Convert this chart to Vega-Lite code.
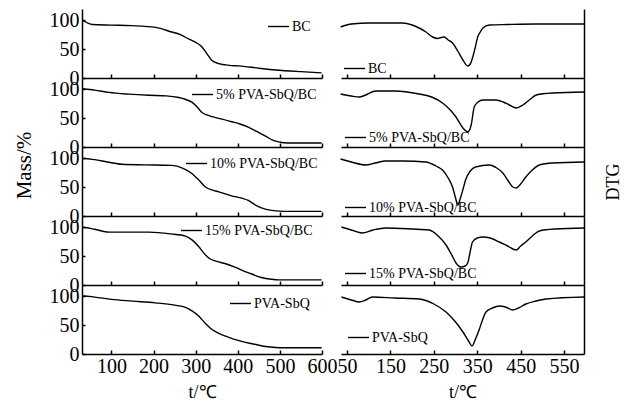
{
  "$schema": "https://vega.github.io/schema/vega-lite/v6.json",
  "padding": {"left": 13, "top": 9, "right": 0, "bottom": 0},
  "config": {
    "font": "Liberation Serif",
    "view": {"stroke": null},
    "axis": {
      "labelFont": "Liberation Serif", "labelFontSize": 20, "labelColor": "black",
      "titleFont": "Liberation Serif", "titleFontWeight": "normal", "titleFontSize": 19, "titleColor": "black",
      "domainColor": "black", "tickColor": "black", "grid": false, "domainWidth": 1.5, "tickWidth": 1.5, "labelFlush": false
    },
    "line": {"color": "black", "strokeWidth": 1.4},
    "legend": {
      "orient": "none", "title": null, "symbolType": "stroke", "symbolSize": 441, "symbolStrokeWidth": 1.5,
      "symbolStrokeColor": "black", "labelFont": "Liberation Serif", "labelFontSize": 14, "labelColor": "black",
      "labelOffset": 2, "padding": 0
    }
  },
  "datasets": {
    "tga": [
      {"sample": "BC", "T": 30, "mass": 100}, {"sample": "BC", "T": 35, "mass": 99}, {"sample": "BC", "T": 45, "mass": 95}, {"sample": "BC", "T": 54, "mass": 93}, {"sample": "BC", "T": 100, "mass": 92}, {"sample": "BC", "T": 148, "mass": 91}, {"sample": "BC", "T": 205, "mass": 88}, {"sample": "BC", "T": 243, "mass": 80}, {"sample": "BC", "T": 265, "mass": 75}, {"sample": "BC", "T": 283, "mass": 68}, {"sample": "BC", "T": 300, "mass": 62}, {"sample": "BC", "T": 315, "mass": 54}, {"sample": "BC", "T": 327, "mass": 42}, {"sample": "BC", "T": 338, "mass": 31}, {"sample": "BC", "T": 355, "mass": 25}, {"sample": "BC", "T": 380, "mass": 22}, {"sample": "BC", "T": 402, "mass": 21}, {"sample": "BC", "T": 450, "mass": 17}, {"sample": "BC", "T": 490, "mass": 14}, {"sample": "BC", "T": 550, "mass": 11}, {"sample": "BC", "T": 599, "mass": 9},
      {"sample": "5% PVA-SbQ/BC", "T": 30, "mass": 101}, {"sample": "5% PVA-SbQ/BC", "T": 35, "mass": 101}, {"sample": "5% PVA-SbQ/BC", "T": 60, "mass": 99}, {"sample": "5% PVA-SbQ/BC", "T": 94, "mass": 95}, {"sample": "5% PVA-SbQ/BC", "T": 140, "mass": 92}, {"sample": "5% PVA-SbQ/BC", "T": 189, "mass": 90}, {"sample": "5% PVA-SbQ/BC", "T": 230, "mass": 89}, {"sample": "5% PVA-SbQ/BC", "T": 260, "mass": 86}, {"sample": "5% PVA-SbQ/BC", "T": 275, "mass": 83}, {"sample": "5% PVA-SbQ/BC", "T": 291, "mass": 78}, {"sample": "5% PVA-SbQ/BC", "T": 303, "mass": 70}, {"sample": "5% PVA-SbQ/BC", "T": 315, "mass": 60}, {"sample": "5% PVA-SbQ/BC", "T": 330, "mass": 55}, {"sample": "5% PVA-SbQ/BC", "T": 348, "mass": 51}, {"sample": "5% PVA-SbQ/BC", "T": 365, "mass": 48}, {"sample": "5% PVA-SbQ/BC", "T": 385, "mass": 44}, {"sample": "5% PVA-SbQ/BC", "T": 405, "mass": 40}, {"sample": "5% PVA-SbQ/BC", "T": 426, "mass": 34}, {"sample": "5% PVA-SbQ/BC", "T": 445, "mass": 27}, {"sample": "5% PVA-SbQ/BC", "T": 466, "mass": 19}, {"sample": "5% PVA-SbQ/BC", "T": 480, "mass": 13}, {"sample": "5% PVA-SbQ/BC", "T": 497, "mass": 9}, {"sample": "5% PVA-SbQ/BC", "T": 520, "mass": 7}, {"sample": "5% PVA-SbQ/BC", "T": 560, "mass": 7}, {"sample": "5% PVA-SbQ/BC", "T": 599, "mass": 7},
      {"sample": "10% PVA-SbQ/BC", "T": 30, "mass": 100}, {"sample": "10% PVA-SbQ/BC", "T": 35, "mass": 100}, {"sample": "10% PVA-SbQ/BC", "T": 60, "mass": 98}, {"sample": "10% PVA-SbQ/BC", "T": 90, "mass": 94}, {"sample": "10% PVA-SbQ/BC", "T": 125, "mass": 90}, {"sample": "10% PVA-SbQ/BC", "T": 180, "mass": 89}, {"sample": "10% PVA-SbQ/BC", "T": 243, "mass": 88}, {"sample": "10% PVA-SbQ/BC", "T": 270, "mass": 83}, {"sample": "10% PVA-SbQ/BC", "T": 291, "mass": 74}, {"sample": "10% PVA-SbQ/BC", "T": 308, "mass": 62}, {"sample": "10% PVA-SbQ/BC", "T": 324, "mass": 50}, {"sample": "10% PVA-SbQ/BC", "T": 340, "mass": 45}, {"sample": "10% PVA-SbQ/BC", "T": 355, "mass": 42}, {"sample": "10% PVA-SbQ/BC", "T": 385, "mass": 35}, {"sample": "10% PVA-SbQ/BC", "T": 410, "mass": 31}, {"sample": "10% PVA-SbQ/BC", "T": 425, "mass": 27}, {"sample": "10% PVA-SbQ/BC", "T": 442, "mass": 19}, {"sample": "10% PVA-SbQ/BC", "T": 465, "mass": 12}, {"sample": "10% PVA-SbQ/BC", "T": 490, "mass": 9}, {"sample": "10% PVA-SbQ/BC", "T": 530, "mass": 8}, {"sample": "10% PVA-SbQ/BC", "T": 599, "mass": 8},
      {"sample": "15% PVA-SbQ/BC", "T": 30, "mass": 100}, {"sample": "15% PVA-SbQ/BC", "T": 35, "mass": 100}, {"sample": "15% PVA-SbQ/BC", "T": 60, "mass": 97}, {"sample": "15% PVA-SbQ/BC", "T": 94, "mass": 92}, {"sample": "15% PVA-SbQ/BC", "T": 140, "mass": 92}, {"sample": "15% PVA-SbQ/BC", "T": 189, "mass": 92}, {"sample": "15% PVA-SbQ/BC", "T": 240, "mass": 89}, {"sample": "15% PVA-SbQ/BC", "T": 276, "mass": 85}, {"sample": "15% PVA-SbQ/BC", "T": 292, "mass": 78}, {"sample": "15% PVA-SbQ/BC", "T": 307, "mass": 67}, {"sample": "15% PVA-SbQ/BC", "T": 320, "mass": 55}, {"sample": "15% PVA-SbQ/BC", "T": 331, "mass": 47}, {"sample": "15% PVA-SbQ/BC", "T": 350, "mass": 41}, {"sample": "15% PVA-SbQ/BC", "T": 371, "mass": 37}, {"sample": "15% PVA-SbQ/BC", "T": 390, "mass": 32}, {"sample": "15% PVA-SbQ/BC", "T": 409, "mass": 26}, {"sample": "15% PVA-SbQ/BC", "T": 430, "mass": 20}, {"sample": "15% PVA-SbQ/BC", "T": 456, "mass": 13}, {"sample": "15% PVA-SbQ/BC", "T": 480, "mass": 10}, {"sample": "15% PVA-SbQ/BC", "T": 497, "mass": 9}, {"sample": "15% PVA-SbQ/BC", "T": 599, "mass": 9},
      {"sample": "PVA-SbQ", "T": 30, "mass": 101}, {"sample": "PVA-SbQ", "T": 35, "mass": 101}, {"sample": "PVA-SbQ", "T": 60, "mass": 99}, {"sample": "PVA-SbQ", "T": 100, "mass": 95}, {"sample": "PVA-SbQ", "T": 150, "mass": 92}, {"sample": "PVA-SbQ", "T": 204, "mass": 89}, {"sample": "PVA-SbQ", "T": 250, "mass": 85}, {"sample": "PVA-SbQ", "T": 276, "mass": 81}, {"sample": "PVA-SbQ", "T": 293, "mass": 74}, {"sample": "PVA-SbQ", "T": 307, "mass": 66}, {"sample": "PVA-SbQ", "T": 322, "mass": 54}, {"sample": "PVA-SbQ", "T": 338, "mass": 43}, {"sample": "PVA-SbQ", "T": 355, "mass": 36}, {"sample": "PVA-SbQ", "T": 371, "mass": 31}, {"sample": "PVA-SbQ", "T": 390, "mass": 26}, {"sample": "PVA-SbQ", "T": 409, "mass": 22}, {"sample": "PVA-SbQ", "T": 440, "mass": 17}, {"sample": "PVA-SbQ", "T": 466, "mass": 13}, {"sample": "PVA-SbQ", "T": 499, "mass": 11}, {"sample": "PVA-SbQ", "T": 599, "mass": 11}
    ],
    "dtg": [
      {"sample": "BC", "T": 35, "dtg": 51}, {"sample": "BC", "T": 60, "dtg": 54}, {"sample": "BC", "T": 101, "dtg": 55}, {"sample": "BC", "T": 178, "dtg": 55}, {"sample": "BC", "T": 200, "dtg": 53}, {"sample": "BC", "T": 216, "dtg": 50}, {"sample": "BC", "T": 232, "dtg": 46}, {"sample": "BC", "T": 247, "dtg": 41}, {"sample": "BC", "T": 259, "dtg": 39.5}, {"sample": "BC", "T": 267, "dtg": 40.5}, {"sample": "BC", "T": 274, "dtg": 41}, {"sample": "BC", "T": 283, "dtg": 38}, {"sample": "BC", "T": 293, "dtg": 35}, {"sample": "BC", "T": 305, "dtg": 27}, {"sample": "BC", "T": 317, "dtg": 18}, {"sample": "BC", "T": 328, "dtg": 12}, {"sample": "BC", "T": 334, "dtg": 14}, {"sample": "BC", "T": 339, "dtg": 20}, {"sample": "BC", "T": 345, "dtg": 30}, {"sample": "BC", "T": 351, "dtg": 41}, {"sample": "BC", "T": 357, "dtg": 46}, {"sample": "BC", "T": 363, "dtg": 50}, {"sample": "BC", "T": 378, "dtg": 53}, {"sample": "BC", "T": 420, "dtg": 53.5}, {"sample": "BC", "T": 486, "dtg": 54}, {"sample": "BC", "T": 597, "dtg": 54},
      {"sample": "5% PVA-SbQ/BC", "T": 35, "dtg": 53}, {"sample": "5% PVA-SbQ/BC", "T": 60, "dtg": 51}, {"sample": "5% PVA-SbQ/BC", "T": 78, "dtg": 50}, {"sample": "5% PVA-SbQ/BC", "T": 93, "dtg": 52}, {"sample": "5% PVA-SbQ/BC", "T": 116, "dtg": 56}, {"sample": "5% PVA-SbQ/BC", "T": 160, "dtg": 56}, {"sample": "5% PVA-SbQ/BC", "T": 216, "dtg": 53}, {"sample": "5% PVA-SbQ/BC", "T": 245, "dtg": 50}, {"sample": "5% PVA-SbQ/BC", "T": 270, "dtg": 44}, {"sample": "5% PVA-SbQ/BC", "T": 290, "dtg": 36}, {"sample": "5% PVA-SbQ/BC", "T": 301, "dtg": 30}, {"sample": "5% PVA-SbQ/BC", "T": 317, "dtg": 19}, {"sample": "5% PVA-SbQ/BC", "T": 328, "dtg": 15}, {"sample": "5% PVA-SbQ/BC", "T": 336, "dtg": 22}, {"sample": "5% PVA-SbQ/BC", "T": 343, "dtg": 40}, {"sample": "5% PVA-SbQ/BC", "T": 352, "dtg": 45}, {"sample": "5% PVA-SbQ/BC", "T": 363, "dtg": 47}, {"sample": "5% PVA-SbQ/BC", "T": 393, "dtg": 47}, {"sample": "5% PVA-SbQ/BC", "T": 410, "dtg": 45}, {"sample": "5% PVA-SbQ/BC", "T": 424, "dtg": 42}, {"sample": "5% PVA-SbQ/BC", "T": 440, "dtg": 39}, {"sample": "5% PVA-SbQ/BC", "T": 455, "dtg": 42}, {"sample": "5% PVA-SbQ/BC", "T": 470, "dtg": 47}, {"sample": "5% PVA-SbQ/BC", "T": 486, "dtg": 52}, {"sample": "5% PVA-SbQ/BC", "T": 524, "dtg": 54}, {"sample": "5% PVA-SbQ/BC", "T": 597, "dtg": 55},
      {"sample": "10% PVA-SbQ/BC", "T": 35, "dtg": 57}, {"sample": "10% PVA-SbQ/BC", "T": 60, "dtg": 54}, {"sample": "10% PVA-SbQ/BC", "T": 93, "dtg": 51}, {"sample": "10% PVA-SbQ/BC", "T": 115, "dtg": 53}, {"sample": "10% PVA-SbQ/BC", "T": 139, "dtg": 55}, {"sample": "10% PVA-SbQ/BC", "T": 180, "dtg": 55}, {"sample": "10% PVA-SbQ/BC", "T": 231, "dtg": 54}, {"sample": "10% PVA-SbQ/BC", "T": 255, "dtg": 50}, {"sample": "10% PVA-SbQ/BC", "T": 270, "dtg": 46}, {"sample": "10% PVA-SbQ/BC", "T": 283, "dtg": 38}, {"sample": "10% PVA-SbQ/BC", "T": 293, "dtg": 29}, {"sample": "10% PVA-SbQ/BC", "T": 300, "dtg": 18}, {"sample": "10% PVA-SbQ/BC", "T": 305, "dtg": 11}, {"sample": "10% PVA-SbQ/BC", "T": 312, "dtg": 19}, {"sample": "10% PVA-SbQ/BC", "T": 318, "dtg": 28}, {"sample": "10% PVA-SbQ/BC", "T": 323, "dtg": 36}, {"sample": "10% PVA-SbQ/BC", "T": 334, "dtg": 45}, {"sample": "10% PVA-SbQ/BC", "T": 346, "dtg": 49}, {"sample": "10% PVA-SbQ/BC", "T": 378, "dtg": 51}, {"sample": "10% PVA-SbQ/BC", "T": 395, "dtg": 48}, {"sample": "10% PVA-SbQ/BC", "T": 409, "dtg": 43}, {"sample": "10% PVA-SbQ/BC", "T": 420, "dtg": 36}, {"sample": "10% PVA-SbQ/BC", "T": 432, "dtg": 29}, {"sample": "10% PVA-SbQ/BC", "T": 440, "dtg": 28}, {"sample": "10% PVA-SbQ/BC", "T": 450, "dtg": 32}, {"sample": "10% PVA-SbQ/BC", "T": 462, "dtg": 39}, {"sample": "10% PVA-SbQ/BC", "T": 477, "dtg": 46}, {"sample": "10% PVA-SbQ/BC", "T": 493, "dtg": 51}, {"sample": "10% PVA-SbQ/BC", "T": 524, "dtg": 53}, {"sample": "10% PVA-SbQ/BC", "T": 597, "dtg": 54},
      {"sample": "15% PVA-SbQ/BC", "T": 37, "dtg": 58}, {"sample": "15% PVA-SbQ/BC", "T": 60, "dtg": 55}, {"sample": "15% PVA-SbQ/BC", "T": 85, "dtg": 52}, {"sample": "15% PVA-SbQ/BC", "T": 110, "dtg": 55}, {"sample": "15% PVA-SbQ/BC", "T": 139, "dtg": 57}, {"sample": "15% PVA-SbQ/BC", "T": 200, "dtg": 56}, {"sample": "15% PVA-SbQ/BC", "T": 239, "dtg": 55}, {"sample": "15% PVA-SbQ/BC", "T": 260, "dtg": 49}, {"sample": "15% PVA-SbQ/BC", "T": 278, "dtg": 40}, {"sample": "15% PVA-SbQ/BC", "T": 290, "dtg": 31}, {"sample": "15% PVA-SbQ/BC", "T": 301, "dtg": 22}, {"sample": "15% PVA-SbQ/BC", "T": 312, "dtg": 18}, {"sample": "15% PVA-SbQ/BC", "T": 322, "dtg": 19}, {"sample": "15% PVA-SbQ/BC", "T": 328, "dtg": 22}, {"sample": "15% PVA-SbQ/BC", "T": 334, "dtg": 34}, {"sample": "15% PVA-SbQ/BC", "T": 339, "dtg": 43}, {"sample": "15% PVA-SbQ/BC", "T": 350, "dtg": 47}, {"sample": "15% PVA-SbQ/BC", "T": 363, "dtg": 48}, {"sample": "15% PVA-SbQ/BC", "T": 380, "dtg": 47}, {"sample": "15% PVA-SbQ/BC", "T": 401, "dtg": 43}, {"sample": "15% PVA-SbQ/BC", "T": 420, "dtg": 39}, {"sample": "15% PVA-SbQ/BC", "T": 440, "dtg": 35}, {"sample": "15% PVA-SbQ/BC", "T": 450, "dtg": 39}, {"sample": "15% PVA-SbQ/BC", "T": 462, "dtg": 43}, {"sample": "15% PVA-SbQ/BC", "T": 477, "dtg": 49}, {"sample": "15% PVA-SbQ/BC", "T": 493, "dtg": 54}, {"sample": "15% PVA-SbQ/BC", "T": 530, "dtg": 56}, {"sample": "15% PVA-SbQ/BC", "T": 597, "dtg": 57},
      {"sample": "PVA-SbQ", "T": 37, "dtg": 57}, {"sample": "PVA-SbQ", "T": 60, "dtg": 54}, {"sample": "PVA-SbQ", "T": 78, "dtg": 52}, {"sample": "PVA-SbQ", "T": 93, "dtg": 54}, {"sample": "PVA-SbQ", "T": 108, "dtg": 57}, {"sample": "PVA-SbQ", "T": 160, "dtg": 56}, {"sample": "PVA-SbQ", "T": 216, "dtg": 55}, {"sample": "PVA-SbQ", "T": 250, "dtg": 50}, {"sample": "PVA-SbQ", "T": 278, "dtg": 42}, {"sample": "PVA-SbQ", "T": 300, "dtg": 32}, {"sample": "PVA-SbQ", "T": 317, "dtg": 22}, {"sample": "PVA-SbQ", "T": 330, "dtg": 13}, {"sample": "PVA-SbQ", "T": 338, "dtg": 8}, {"sample": "PVA-SbQ", "T": 346, "dtg": 15}, {"sample": "PVA-SbQ", "T": 355, "dtg": 25}, {"sample": "PVA-SbQ", "T": 362, "dtg": 34}, {"sample": "PVA-SbQ", "T": 370, "dtg": 42}, {"sample": "PVA-SbQ", "T": 385, "dtg": 46}, {"sample": "PVA-SbQ", "T": 401, "dtg": 48}, {"sample": "PVA-SbQ", "T": 415, "dtg": 47}, {"sample": "PVA-SbQ", "T": 432, "dtg": 44}, {"sample": "PVA-SbQ", "T": 445, "dtg": 46}, {"sample": "PVA-SbQ", "T": 462, "dtg": 50}, {"sample": "PVA-SbQ", "T": 485, "dtg": 53}, {"sample": "PVA-SbQ", "T": 509, "dtg": 55}, {"sample": "PVA-SbQ", "T": 597, "dtg": 57}
    ]
  },
  "columns": 2,
  "spacing": {"row": 0, "column": 19},
  "bounds": "flush",
  "resolve": {"scale": {"color": "independent", "x": "independent", "y": "independent"}, "legend": {"color": "independent"}},
  "concat": [
    {"width": 240, "height": 69, "data": {"name": "tga"}, "transform": [{"filter": "datum.sample === 'BC'"}],
     "mark": {"type": "line", "interpolate": "monotone"},
     "encoding": {
       "x": {"field": "T", "type": "quantitative", "scale": {"domain": [30, 600], "nice": false, "zero": false}, "axis": {"values": [100, 200, 300, 400, 500, 600], "labels": false, "title": null, "tickSize": -4}},
       "y": {"field": "mass", "type": "quantitative", "scale": {"domain": [0, 120], "nice": false}, "axis": {"values": [0, 50, 100], "tickSize": -3, "labelPadding": 6, "title": null}},
       "color": {"field": "sample", "type": "nominal", "scale": {"range": ["black"]}, "legend": {"legendX": 185, "legendY": 6}}
     }},
    {"width": 243, "height": 69, "data": {"name": "dtg"}, "transform": [{"filter": "datum.sample === 'BC'"}],
     "mark": {"type": "line", "interpolate": "monotone"},
     "encoding": {
       "x": {"field": "T", "type": "quantitative", "scale": {"domain": [36, 596], "nice": false, "zero": false}, "axis": {"values": [50, 150, 250, 350, 450, 550], "labels": false, "title": null, "tickSize": -4}},
       "y": {"field": "dtg", "type": "quantitative", "scale": {"domain": [0, 69], "nice": false}, "axis": {"orient": "right", "ticks": false, "labels": false, "title": null}},
       "color": {"field": "sample", "type": "nominal", "scale": {"range": ["black"]}, "legend": {"legendX": 2, "legendY": 48}}
     }},
    {"width": 240, "height": 69, "data": {"name": "tga"}, "transform": [{"filter": "datum.sample === '5% PVA-SbQ/BC'"}],
     "mark": {"type": "line", "interpolate": "monotone"},
     "encoding": {
       "x": {"field": "T", "type": "quantitative", "scale": {"domain": [30, 600], "nice": false, "zero": false}, "axis": {"values": [100, 200, 300, 400, 500, 600], "labels": false, "title": null, "tickSize": -4}},
       "y": {"field": "mass", "type": "quantitative", "scale": {"domain": [0, 120], "nice": false}, "axis": {"values": [0, 50, 100], "tickSize": -3, "labelPadding": 6, "title": null}},
       "color": {"field": "sample", "type": "nominal", "scale": {"range": ["black"]}, "legend": {"legendX": 109, "legendY": 5}}
     }},
    {"width": 243, "height": 69, "data": {"name": "dtg"}, "transform": [{"filter": "datum.sample === '5% PVA-SbQ/BC'"}],
     "mark": {"type": "line", "interpolate": "monotone"},
     "encoding": {
       "x": {"field": "T", "type": "quantitative", "scale": {"domain": [36, 596], "nice": false, "zero": false}, "axis": {"values": [50, 150, 250, 350, 450, 550], "labels": false, "title": null, "tickSize": -4}},
       "y": {"field": "dtg", "type": "quantitative", "scale": {"domain": [0, 69], "nice": false}, "axis": {"orient": "right", "ticks": false, "labels": false, "title": null}},
       "color": {"field": "sample", "type": "nominal", "scale": {"range": ["black"]}, "legend": {"legendX": 3, "legendY": 48}}
     }},
    {"width": 240, "height": 69, "data": {"name": "tga"}, "transform": [{"filter": "datum.sample === '10% PVA-SbQ/BC'"}],
     "mark": {"type": "line", "interpolate": "monotone"},
     "encoding": {
       "x": {"field": "T", "type": "quantitative", "scale": {"domain": [30, 600], "nice": false, "zero": false}, "axis": {"values": [100, 200, 300, 400, 500, 600], "labels": false, "title": null, "tickSize": -4}},
       "y": {"field": "mass", "type": "quantitative", "scale": {"domain": [0, 120], "nice": false}, "axis": {"values": [0, 50, 100], "tickSize": -3, "labelPadding": 6, "title": "Mass/%", "titleFontSize": 21, "titlePadding": 15, "titleY": 18}},
       "color": {"field": "sample", "type": "nominal", "scale": {"range": ["black"]}, "legend": {"legendX": 103, "legendY": 5}}
     }},
    {"width": 243, "height": 69, "data": {"name": "dtg"}, "transform": [{"filter": "datum.sample === '10% PVA-SbQ/BC'"}],
     "mark": {"type": "line", "interpolate": "monotone"},
     "encoding": {
       "x": {"field": "T", "type": "quantitative", "scale": {"domain": [36, 596], "nice": false, "zero": false}, "axis": {"values": [50, 150, 250, 350, 450, 550], "labels": false, "title": null, "tickSize": -4}},
       "y": {"field": "dtg", "type": "quantitative", "scale": {"domain": [0, 69], "nice": false}, "axis": {"orient": "right", "ticks": false, "labels": false, "title": "DTG", "titleAngle": 270, "titlePadding": 38, "titleFontSize": 18}},
       "color": {"field": "sample", "type": "nominal", "scale": {"range": ["black"]}, "legend": {"legendX": 3, "legendY": 49}}
     }},
    {"width": 240, "height": 69, "data": {"name": "tga"}, "transform": [{"filter": "datum.sample === '15% PVA-SbQ/BC'"}],
     "mark": {"type": "line", "interpolate": "monotone"},
     "encoding": {
       "x": {"field": "T", "type": "quantitative", "scale": {"domain": [30, 600], "nice": false, "zero": false}, "axis": {"values": [100, 200, 300, 400, 500, 600], "labels": false, "title": null, "tickSize": -4}},
       "y": {"field": "mass", "type": "quantitative", "scale": {"domain": [0, 120], "nice": false}, "axis": {"values": [0, 50, 100], "tickSize": -3, "labelPadding": 6, "title": null}},
       "color": {"field": "sample", "type": "nominal", "scale": {"range": ["black"]}, "legend": {"legendX": 98, "legendY": 3}}
     }},
    {"width": 243, "height": 69, "data": {"name": "dtg"}, "transform": [{"filter": "datum.sample === '15% PVA-SbQ/BC'"}],
     "mark": {"type": "line", "interpolate": "monotone"},
     "encoding": {
       "x": {"field": "T", "type": "quantitative", "scale": {"domain": [36, 596], "nice": false, "zero": false}, "axis": {"values": [50, 150, 250, 350, 450, 550], "labels": false, "title": null, "tickSize": -4}},
       "y": {"field": "dtg", "type": "quantitative", "scale": {"domain": [0, 69], "nice": false}, "axis": {"orient": "right", "ticks": false, "labels": false, "title": null}},
       "color": {"field": "sample", "type": "nominal", "scale": {"range": ["black"]}, "legend": {"legendX": 3, "legendY": 46}}
     }},
    {"width": 240, "height": 69, "data": {"name": "tga"}, "transform": [{"filter": "datum.sample === 'PVA-SbQ'"}],
     "mark": {"type": "line", "interpolate": "monotone"},
     "encoding": {
       "x": {"field": "T", "type": "quantitative", "scale": {"domain": [30, 600], "nice": false, "zero": false}, "axis": {"values": [100, 200, 300, 400, 500, 600], "tickSize": -4, "labelPadding": 6, "title": "t/℃", "titleFontSize": 18, "titlePadding": 7}},
       "y": {"field": "mass", "type": "quantitative", "scale": {"domain": [0, 120], "nice": false}, "axis": {"values": [0, 50, 100], "tickSize": -3, "labelPadding": 6, "title": null}},
       "color": {"field": "sample", "type": "nominal", "scale": {"range": ["black"]}, "legend": {"legendX": 147, "legendY": 7}}
     }},
    {"width": 243, "height": 69, "data": {"name": "dtg"}, "transform": [{"filter": "datum.sample === 'PVA-SbQ'"}],
     "mark": {"type": "line", "interpolate": "monotone"},
     "encoding": {
       "x": {"field": "T", "type": "quantitative", "scale": {"domain": [36, 596], "nice": false, "zero": false}, "axis": {"values": [50, 150, 250, 350, 450, 550], "tickSize": -4, "labelPadding": 6, "title": "t/℃", "titleFontSize": 18, "titlePadding": 7}},
       "y": {"field": "dtg", "type": "quantitative", "scale": {"domain": [0, 69], "nice": false}, "axis": {"orient": "right", "ticks": false, "labels": false, "title": null}},
       "color": {"field": "sample", "type": "nominal", "scale": {"range": ["black"]}, "legend": {"legendX": 6, "legendY": 41}}
     }}
  ]
}
